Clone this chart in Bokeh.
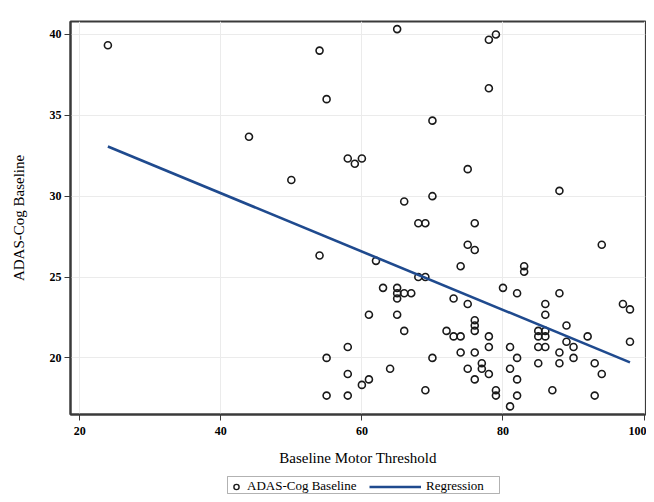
from bokeh.plotting import figure
from bokeh.models import Range1d, Legend, LegendItem, FixedTicker, BoxAnnotation
from bokeh.layouts import column
from bokeh.embed import file_html
from bokeh.resources import INLINE
import numpy as np

# Baseline Motor Threshold (x) and ADAS-Cog Baseline (y)
motor_threshold = [
    24, 44, 50,
    65, 54, 55, 70, 58, 59, 60, 75, 70, 66, 68, 69, 76, 54, 75, 76, 62, 74, 68, 69,
    63, 65, 65, 65, 66, 67, 73, 75, 61, 65, 66, 72, 73, 74, 58, 74, 55, 70, 64, 75,
    58, 61, 60, 69, 55, 58,
    78, 79, 78, 88, 94, 83, 83, 80, 82, 88, 86, 86, 97, 98, 89, 76, 76, 76, 85, 85,
    86, 86, 78, 92, 89, 98, 78, 81, 85, 86, 90, 76, 88, 82, 90, 77, 77, 78, 81, 85,
    88, 93, 94, 76, 82, 79, 79, 82, 87, 93, 81,
]
adas_cog = [
    39.33, 33.67, 31.0,
    40.33, 39.0, 36.0, 34.67, 32.33, 32.0, 32.33, 31.67, 30.0, 29.67, 28.33, 28.33, 28.33, 26.33, 27.0, 26.67, 26.0, 25.67, 25.0, 25.0,
    24.33, 24.33, 24.0, 23.67, 24.0, 24.0, 23.67, 23.33, 22.67, 22.67, 21.67, 21.67, 21.33, 21.33, 20.67, 20.33, 20.0, 20.0, 19.33, 19.33,
    19.0, 18.67, 18.33, 18.0, 17.67, 17.67,
    39.67, 40.0, 36.67, 30.33, 27.0, 25.67, 25.33, 24.33, 24.0, 24.0, 23.33, 22.67, 23.33, 23.0, 22.0, 22.33, 22.0, 21.67, 21.67, 21.33,
    21.67, 21.33, 21.33, 21.33, 21.0, 21.0, 20.67, 20.67, 20.67, 20.67, 20.67, 20.33, 20.33, 20.0, 20.0, 19.67, 19.33, 19.0, 19.33, 19.67,
    19.67, 19.67, 19.0, 18.67, 18.67, 18.0, 17.67, 17.67, 18.0, 17.67, 17.0,
]

# Regression line
fit_intercept = 37.40
fit_slope = -0.1804

x_ticks = [20, 40, 60, 80, 100]
y_ticks = [20, 25, 30, 35, 40]
legend_labels = ["ADAS-Cog Baseline", "Regression"]

serif = "Liberation Serif"
POINT_COLOR = "#1a1a1a"
LINE_COLOR = "#1f4a8e"
LEFT, RIGHT = 70, 1

p = figure(width=646, height=470, output_backend="svg", toolbar_location=None,
           x_range=Range1d(18.7, 100.2), y_range=Range1d(16.5, 40.8),
           min_border_left=LEFT, min_border_right=RIGHT, min_border_top=21, min_border_bottom=56)
p.background_fill_color = "white"
p.border_fill_color = "white"
p.outline_line_color = "#3a3a3a"
p.outline_line_width = 2

for ax in (p.xaxis[0], p.yaxis[0]):
    ax.axis_line_color = "#3a3a3a"
    ax.axis_line_width = 2
    ax.major_tick_line_color = "#3a3a3a"
    ax.major_tick_line_width = 1
    ax.major_tick_out = 6
    ax.major_tick_in = 0
    ax.minor_tick_line_color = None
    ax.major_label_text_font = serif
    ax.major_label_text_font_size = "12px"
    ax.major_label_text_font_style = "bold"
    ax.major_label_text_color = "#000000"
    ax.axis_label_text_font = serif
    ax.axis_label_text_font_size = "15px"
    ax.axis_label_text_font_style = "normal"
    ax.axis_label_text_color = "#000000"

p.xaxis[0].ticker = FixedTicker(ticks=x_ticks)
p.yaxis[0].ticker = FixedTicker(ticks=y_ticks)
p.xaxis[0].axis_label = "Baseline Motor Threshold"
p.yaxis[0].axis_label = "ADAS-Cog Baseline"
p.xaxis[0].major_label_standoff = 6
p.yaxis[0].major_label_standoff = 3
p.xaxis[0].axis_label_standoff = 12
p.yaxis[0].axis_label_standoff = 20

p.grid.grid_line_color = "#ebebeb"
p.grid.grid_line_width = 1
p.xgrid.ticker = FixedTicker(ticks=x_ticks)
p.ygrid.ticker = FixedTicker(ticks=y_ticks)

p.scatter(motor_threshold, adas_cog, marker="circle", size=7,
          fill_color=None, line_color=POINT_COLOR, line_width=1.6)

fx = np.array([min(motor_threshold), max(motor_threshold)], dtype=float)
fy = fit_intercept + fit_slope * fx
p.line(fx, fy, line_color=LINE_COLOR, line_width=2.6)

# Legend strip below the plot (its ranges are in pixels of the strip)
lg = figure(width=646, height=24, output_backend="svg", toolbar_location=None,
            x_axis_location=None, y_axis_location=None,
            x_range=Range1d(LEFT, 646 - RIGHT), y_range=Range1d(0, 24),
            min_border_left=LEFT, min_border_right=RIGHT, min_border_top=0, min_border_bottom=0)
lg.grid.visible = False
lg.outline_line_color = None
lg.background_fill_color = "white"
lg.border_fill_color = "white"
pts_key = lg.scatter([-1000], [-1000], marker="circle", size=6, fill_color=None,
                     line_color=POINT_COLOR, line_width=1.4)
reg_key = lg.line([-1000, -999], [-1000, -1000], line_color=LINE_COLOR, line_width=2.6)

common = dict(orientation="horizontal", label_text_font=serif, label_text_font_size="13px",
              label_text_color="#000000", border_line_color=None,
              background_fill_alpha=0, glyph_height=13, label_height=13,
              padding=2, spacing=0, margin=0)
leg1 = Legend(items=[LegendItem(label=legend_labels[0], renderers=[pts_key])],
              location=(227 - LEFT, 0), glyph_width=18, label_standoff=2, **common)
leg2 = Legend(items=[LegendItem(label=legend_labels[1], renderers=[reg_key])],
              location=(369 - LEFT, 0), glyph_width=52, label_standoff=5, **common)
lg.add_layout(leg1)
lg.add_layout(leg2)
lg.add_layout(BoxAnnotation(left=227, right=499, bottom=1, top=18,
                            fill_alpha=0, line_color="#000000", line_width=1))

layout = column(p, lg)
open("out.html", "w").write(file_html(layout, INLINE))
